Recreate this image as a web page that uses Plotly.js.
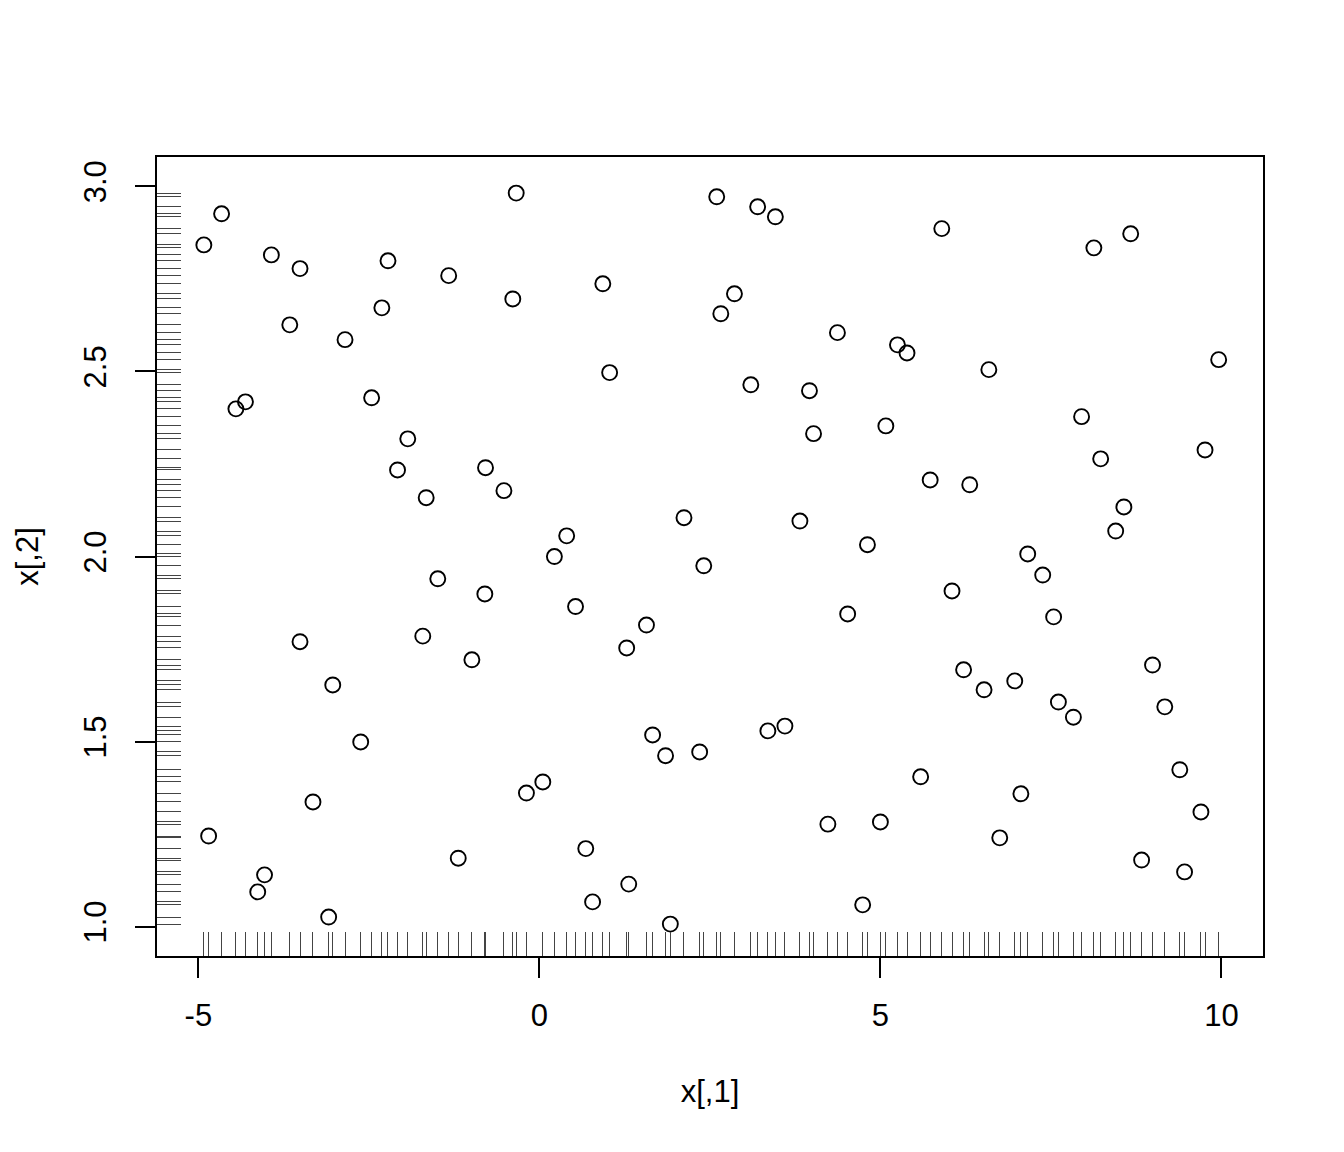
<!DOCTYPE html>
<html>
<head>
<meta charset="utf-8">
<script src="https://cdn.plot.ly/plotly-3.0.1.min.js"></script>
<style>html,body{margin:0;padding:0;background:#fff;}#plot{width:1344px;height:1152px;}</style>
</head>
<body>
<div id="plot"></div>
<script>
var xs = [-4.92,-4.85,-4.66,-4.45,-4.31,-4.13,-4.03,-3.93,-3.66,-3.51,
          -3.51,-3.32,-3.09,-3.03,-2.85,-2.62,-2.46,-2.31,-2.22,-2.08,
          -1.93,-1.71,-1.66,-1.49,-1.33,-1.19,-0.99,-0.80,-0.79,-0.52,
          -0.39,-0.34,-0.19,0.05,0.22,0.40,0.53,0.68,0.78,0.93,
          1.03,1.28,1.31,1.57,1.66,1.85,1.92,2.12,2.35,2.41,
          2.60,2.66,2.86,3.10,3.20,3.35,3.46,3.60,3.82,3.96,
          4.02,4.23,4.37,4.52,4.74,4.81,5.00,5.08,5.25,5.39,
          5.59,5.73,5.90,6.05,6.22,6.31,6.52,6.59,6.75,6.97,
          7.06,7.16,7.38,7.54,7.61,7.83,7.95,8.13,8.23,8.45,
          8.57,8.67,8.83,8.99,9.17,9.39,9.46,9.70,9.76,9.96];
var ys = [2.842,1.245,2.926,2.399,2.418,1.094,1.140,2.815,2.626,2.778,
          1.770,1.337,1.026,1.653,2.586,1.499,2.429,2.672,2.799,2.234,
          2.318,1.785,2.159,1.940,2.759,1.185,1.721,1.899,2.240,2.178,
          2.696,2.982,1.361,1.391,2.000,2.056,1.865,1.211,1.067,2.737,
          2.497,1.753,1.115,1.815,1.518,1.462,1.007,2.105,1.472,1.975,
          2.972,2.656,2.710,2.464,2.945,1.529,2.918,1.542,2.096,2.448,
          2.332,1.277,2.605,1.845,1.059,2.032,1.283,2.353,2.572,2.550,
          1.405,2.207,2.886,1.907,1.694,2.194,1.640,2.505,1.240,1.664,
          1.359,2.007,1.950,1.837,1.607,1.566,2.378,2.834,2.264,2.069,
          2.134,2.872,1.180,1.707,1.594,1.424,1.148,1.310,2.288,2.532];
var xTicks = [-5, 0, 5, 10];
var xTickText = ['-5', '0', '5', '10'];
var yTicks = [1.0, 1.5, 2.0, 2.5, 3.0];
var yTickText = ['1.0', '1.5', '2.0', '2.5', '3.0'];
var xTitle = 'x[,1]';
var yTitle = 'x[,2]';

var xRange = [-5.607, 10.61];
var yRange = [0.9208, 3.0795];
var font = {family: 'Liberation Sans, Arial, sans-serif', size: 31, color: '#000'};

var traces = [
  {
    type: 'scatter', mode: 'markers', x: xs, y: ys,
    marker: {symbol: 'circle-open', size: 15, color: '#000', line: {width: 1.9, color: '#000'}},
    hoverinfo: 'x+y', showlegend: false
  },
  {
    // carrier trace for the rug axes
    type: 'scatter', mode: 'markers', x: xs, y: ys, xaxis: 'x2', yaxis: 'y2',
    marker: {size: 1, opacity: 0}, hoverinfo: 'skip', showlegend: false
  }
];

var layout = {
  width: 1344, height: 1152,
  paper_bgcolor: '#fff', plot_bgcolor: '#fff',
  margin: {l: 157, r: 81, t: 157, b: 196, pad: 0},
  font: font,
  showlegend: false,
  xaxis: {
    range: xRange, autorange: false, tickmode: 'array', tickvals: xTicks, ticktext: xTickText,
    ticks: 'outside', ticklen: 20, tickwidth: 2, tickcolor: '#000',
    showgrid: false, zeroline: false, showline: true, mirror: true, linecolor: '#000', linewidth: 2,
    tickfont: font, ticklabelstandoff: 11,
    title: {text: xTitle, font: font, standoff: 48}
  },
  yaxis: {
    range: yRange, autorange: false, tickmode: 'array', tickvals: yTicks, ticktext: yTickText,
    ticks: 'outside', ticklen: 20, tickwidth: 2, tickcolor: '#000', tickangle: -90,
    showgrid: false, zeroline: false, showline: true, mirror: true, linecolor: '#000', linewidth: 2,
    tickfont: font, ticklabelstandoff: 17,
    title: {text: yTitle, font: font, standoff: 30}
  },
  xaxis2: {
    overlaying: 'x', anchor: 'y2', side: 'bottom', range: xRange, autorange: false,
    tickmode: 'array', tickvals: xs, ticks: 'inside', ticklen: 24, tickwidth: 1, tickcolor: '#444',
    showticklabels: false, showgrid: false, zeroline: false, showline: false
  },
  yaxis2: {
    overlaying: 'y', anchor: 'x2', side: 'left', range: yRange, autorange: false,
    tickmode: 'array', tickvals: ys, ticks: 'inside', ticklen: 24, tickwidth: 1, tickcolor: '#444',
    showticklabels: false, showgrid: false, zeroline: false, showline: false
  }
};

Plotly.newPlot('plot', traces, layout, {staticPlot: true, displayModeBar: false});
</script>
</body>
</html>
